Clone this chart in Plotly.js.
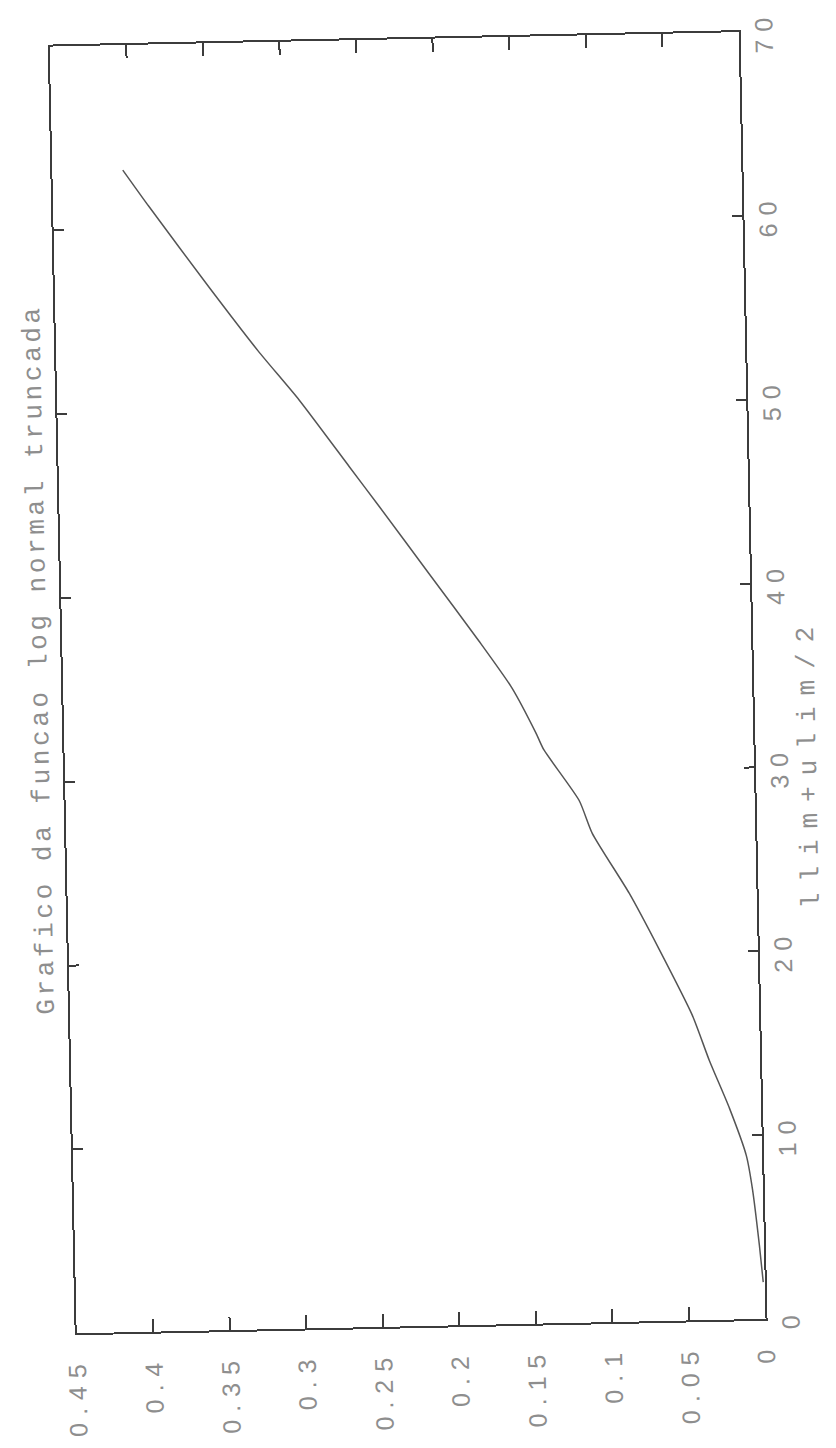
<!DOCTYPE html>
<html>
<head>
<meta charset="utf-8">
<script src="https://cdn.plot.ly/plotly-3.0.1.min.js"></script>
<style>
  html, body { margin: 0; padding: 0; background: #fff; width: 836px; height: 1448px; overflow: hidden; }
  /* the printed sheet is laid out landscape and turned onto the portrait page */
  #sheet {
    position: absolute; left: -306px; top: 306px;
    width: 1448px; height: 836px;
    transform: rotate(-91.2deg); transform-origin: 50% 50%;
  }
  #sheet .gtitle { letter-spacing: 3.6px; }
  #sheet .annotation-text { letter-spacing: 11px; }
  #sheet .xtick text, #sheet .ytick text { letter-spacing: 8px; }
</style>
</head>
<body>
<div id="sheet"></div>
<script>
// midpoint of each class interval, (llim+ulim)/2
const midpoints = [2, 4.0, 7.1, 8.9, 11.5, 14.1, 16.6, 20.2, 23.3, 26.6, 28.4, 31.2, 32.1,
                   34.6, 37.2, 40.9, 44.6, 46.8, 50.5, 53.2, 56.7, 61.2, 63.2];
// truncated log-normal function value at each midpoint
const density = [0.001, 0.003, 0.0068, 0.0103, 0.0207, 0.0331, 0.0437, 0.0643, 0.0832, 0.1065,
                 0.1146, 0.137, 0.1418, 0.157, 0.178, 0.2095, 0.241, 0.260, 0.292, 0.318,
                 0.349, 0.3875, 0.404];

const xTickVals = [0, 10, 20, 30, 40, 50, 60, 70];
const yTickVals = [0, 0.05, 0.1, 0.15, 0.2, 0.25, 0.3, 0.35, 0.4, 0.45];
const yTickText = ["0", "0.05", "0.1", "0.15", "0.2", "0.25", "0.3", "0.35", "0.4", "0.45"];

const titleText = "Grafico da funcao log normal truncada";
const xLabel = "llim+ulim/2";

const tickFont = { family: "Liberation Sans, Arial, sans-serif", size: 25, color: "#8e8e8e" };
const labelFont = { family: "Liberation Mono, monospace", size: 26, color: "#8e8e8e" };

const trace = {
  x: midpoints,
  y: density,
  type: "scatter",
  mode: "lines",
  line: { color: "#555", width: 1.5, shape: "spline", smoothing: 0.6 },
  hoverinfo: "none"
};

const axisCommon = {
  showgrid: false,
  zeroline: false,
  showline: true,
  linecolor: "#3c3c3c",
  linewidth: 2,
  mirror: "ticks",
  ticks: "inside",
  tickcolor: "#3c3c3c",
  tickwidth: 2,
  tickfont: tickFont
};

const layout = {
  width: 1448,
  height: 836,
  margin: { l: 122, r: 39, t: 64, b: 83 },
  paper_bgcolor: "#fff",
  plot_bgcolor: "#fff",
  showlegend: false,
  title: {
    text: titleText,
    font: labelFont,
    x: 0.524, xref: "paper", xanchor: "center",
    y: 1, yref: "paper", yanchor: "bottom",
    pad: { b: 16 }
  },
  xaxis: Object.assign({}, axisCommon, {
    range: [0, 70],
    tickvals: xTickVals,
    ticklen: 10,
    ticklabelstandoff: 2
  }),
  yaxis: Object.assign({}, axisCommon, {
    range: [0, 0.45],
    tickvals: yTickVals,
    ticktext: yTickText,
    ticklen: 13,
    ticklabelstandoff: 16
  }),
  annotations: [{
    text: xLabel,
    font: labelFont,
    xref: "paper", yref: "paper",
    x: 0.432, y: 0,
    xanchor: "center", yanchor: "middle",
    yshift: -55,
    showarrow: false
  }]
};

Plotly.newPlot("sheet", [trace], layout, { staticPlot: true, displayModeBar: false });
</script>
</body>
</html>
